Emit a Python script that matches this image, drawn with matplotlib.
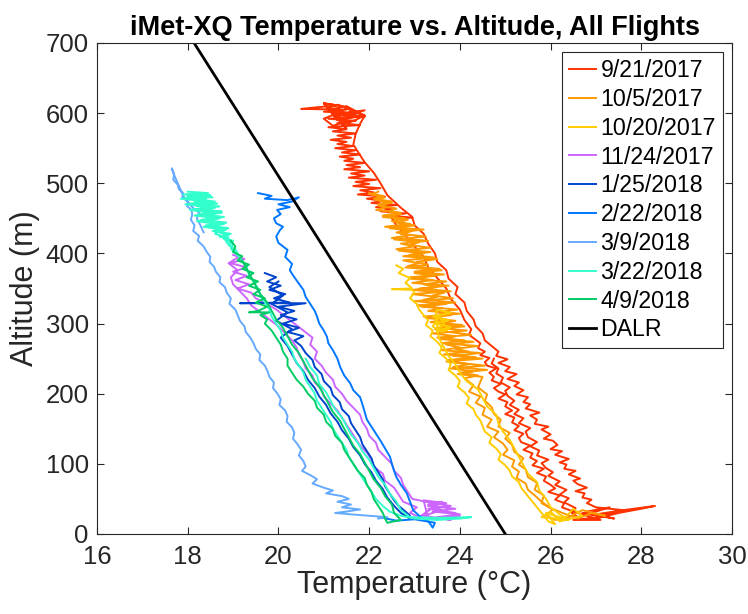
import matplotlib
matplotlib.use("Agg")
import matplotlib.pyplot as plt

plt.rcParams["font.family"] = ["Liberation Sans", "DejaVu Sans"]

# Flight profiles as (temperature degC, altitude m) points, several ascents/descents per flight
flight_0921 = [
    (27.0, 22), (27.5, 30), (28.0, 36), (28.3, 40), (27.6, 34), (27.0, 38),
    (26.8, 44), (26.9, 49), (26.7, 52), (26.75, 58), (26.55, 61), (26.8, 66), (26.6, 71), (26.5, 76),
    (26.65, 79), (26.4, 85), (26.55, 90), (26.3, 93), (26.35, 99), (26.2, 102), (26.4, 107), (26.1, 113),
    (26.25, 118), (26.0, 121), (26.15, 127), (26.05, 133), (25.85, 136), (26.0, 142), (25.8, 149), (25.95, 153),
    (25.65, 157), (25.7, 163), (25.55, 169), (25.75, 173), (25.45, 179), (25.55, 185), (25.4, 188), (25.5, 195),
    (25.25, 199), (25.4, 205), (25.2, 211), (25.3, 216), (25.05, 221), (25.25, 228), (25.0, 232), (25.1, 238),
    (24.85, 244), (25.05, 249), (24.8, 254), (24.85, 260),
    (24.55, 276), (24.5, 286), (24.35, 296), (24.3, 306),
    (24.15, 318), (24.1, 330), (23.9, 342), (23.95, 352), (23.75, 364), (23.7, 376), (23.5, 388), (23.45, 400),
    (23.3, 414), (23.2, 428), (23.0, 440), (22.95, 452), (22.7, 465), (22.4, 483), (22.25, 500), (22.1, 515),
    (21.9, 530), (21.75, 545), (21.65, 555), (21.7, 570), (21.8, 585), (21.9, 596), (21.6, 604), (21.4, 610),
    (21.0, 614),
    (21.3, 590), (21.8, 596), (21.4, 600), (21.9, 604), (21.6, 598), (21.2, 606), (21.5, 610), (21.7, 603),
    (21.3, 596), (21.5, 588), (21.2, 582), (21.0, 592), (21.3, 600), (21.1, 607), (21.3, 612), (21.6, 605),
    (21.9, 597), (21.7, 590), (21.4, 584), (21.5, 578),
    (21.0, 614), (21.3, 611), (20.8, 608), (20.5, 606), (21.5, 605), (21.0, 602), (21.6, 600), (21.2, 597),
    (21.9, 595), (21.1, 592), (21.7, 589), (21.3, 586), (21.8, 583), (21.1, 580), (21.5, 577), (21.2, 574),
    (21.7, 571), (21.3, 568), (21.6, 565), (21.15, 562), (21.5, 559), (21.3, 556), (21.65, 553), (21.25, 550),
    (21.7, 547), (21.4, 544), (21.8, 541), (21.35, 538), (21.65, 535), (21.45, 532), (21.9, 529), (21.5, 526),
    (21.8, 523), (21.45, 520), (22.0, 517), (21.6, 514), (21.9, 511), (21.55, 508), (22.15, 505), (21.7, 502),
    (22.0, 499), (21.65, 496), (22.25, 493), (21.8, 490), (22.1, 487), (21.75, 484), (22.35, 481), (21.95, 478),
    (22.3, 475), (22.05, 472), (22.6, 469), (22.15, 466), (22.5, 463), (22.25, 460), (22.8, 457), (22.45, 454),
    (22.95, 451),
    (22.5, 450), (22.6, 440), (22.8, 425), (23.0, 410), (23.2, 395), (23.3, 380), (23.5, 365), (23.7, 350),
    (23.8, 335), (24.0, 320), (24.1, 305), (24.25, 292), (24.2, 284), (24.45, 272), (24.4, 265),
    (24.55, 260), (24.45, 255), (24.65, 251), (24.55, 245), (24.6, 240), (24.8, 236), (24.65, 230), (24.75, 224),
    (24.7, 219), (24.9, 214), (24.75, 208), (24.85, 203), (25.0, 199), (24.85, 193), (25.05, 188), (25.0, 182),
    (25.15, 176), (25.0, 171), (25.2, 166), (25.15, 159), (25.3, 154), (25.2, 148), (25.4, 143), (25.3, 137),
    (25.35, 131), (25.55, 126), (25.4, 120), (25.6, 115), (25.55, 109), (25.7, 104), (25.6, 98), (25.85, 93),
    (25.7, 87), (25.9, 82), (25.85, 76), (26.0, 70), (26.1, 65), (25.95, 60), (26.2, 55), (26.1, 49),
    (26.3, 44), (26.25, 38), (26.5, 32), (26.8, 26), (27.1, 20),
    (26.5, 20), (27.2, 25), (26.7, 30), (27.4, 22), (27.0, 28), (27.6, 34), (27.1, 26), (26.8, 32),
    (27.3, 38), (26.9, 30),
    (26.6, 24), (26.45, 31), (26.55, 37), (26.3, 45), (26.4, 51), (26.2, 56), (26.35, 63), (26.1, 70),
    (26.2, 75), (25.95, 83), (26.05, 88), (25.9, 94), (25.8, 101), (25.95, 106), (25.7, 112), (25.75, 119),
    (25.55, 125), (25.7, 131), (25.5, 138), (25.45, 146), (25.55, 151), (25.3, 158), (25.4, 165), (25.2, 171),
    (25.3, 177), (25.1, 184), (25.2, 190), (25.05, 197), (25.0, 204), (25.1, 209), (24.9, 216), (24.95, 223),
    (24.8, 229), (24.85, 236), (24.7, 243), (24.75, 250),
]

flight_1005 = [
    (22.0, 486), (22.3, 482), (22.1, 478), (22.5, 474), (22.2, 470), (22.4, 466), (22.15, 462), (22.7, 458),
    (22.3, 454), (22.8, 450), (22.5, 446), (22.9, 442), (22.35, 438), (23.2, 434), (22.6, 430), (22.9, 426),
    (22.5, 422), (23.3, 418), (22.7, 414), (23.0, 410), (22.6, 406), (23.35, 402), (22.9, 398), (23.45, 394),
    (22.75, 390), (23.1, 386), (22.85, 382), (23.55, 378), (23.0, 374), (23.65, 370), (22.9, 366), (23.4, 362),
    (22.95, 358), (23.75, 354), (23.1, 350), (23.8, 346), (22.95, 342), (23.5, 338), (23.2, 334), (23.9, 330),
    (23.05, 326), (23.6, 322), (23.3, 318), (24.0, 314), (23.2, 310), (23.7, 306), (23.35, 302), (24.05, 298),
    (23.5, 294), (24.15, 290), (23.4, 286), (23.9, 282), (23.55, 278), (24.3, 274), (23.7, 270), (24.0, 266),
    (23.6, 262), (24.45, 258), (23.85, 254), (24.5, 250), (23.7, 246), (24.2, 242), (23.85, 238), (24.6, 234),
    (24.0, 230), (24.4, 226), (24.1, 222),
    (24.3, 212), (24.2, 203), (24.45, 196), (24.35, 187), (24.55, 180), (24.5, 170), (24.7, 163), (24.6, 153),
    (24.85, 146), (24.75, 138), (24.95, 129), (25.05, 120), (24.95, 113), (25.2, 105), (25.15, 96), (25.3, 89),
    (25.25, 80), (25.45, 72), (25.5, 63), (25.65, 55), (25.8, 46), (26.0, 37), (26.3, 29), (26.6, 22),
    (26.9, 30), (27.2, 26), (26.7, 34), (26.4, 24),
    (26.1, 20), (25.9, 27), (26.05, 35), (25.8, 44), (25.85, 55), (25.65, 63), (25.7, 73), (25.5, 81),
    (25.45, 92), (25.3, 99), (25.4, 108), (25.2, 117), (25.15, 127), (25.0, 136), (25.1, 144), (24.85, 153),
    (24.9, 163), (24.75, 171), (24.7, 181), (24.55, 190), (24.6, 199), (24.4, 209), (24.45, 217), (24.5, 224),
    (23.95, 228), (24.3, 232), (23.8, 236), (24.55, 240), (24.0, 244), (23.75, 248), (24.35, 252), (23.65, 256),
    (24.2, 260), (23.9, 264), (24.4, 268), (23.6, 272), (24.1, 276), (23.5, 280), (24.25, 284), (23.75, 288),
    (23.45, 292), (24.1, 296), (23.6, 300), (23.9, 304), (23.25, 308), (23.8, 312), (23.5, 316), (23.95, 320),
    (23.15, 324), (23.7, 328), (23.0, 332), (23.85, 336), (23.4, 340), (23.65, 344), (22.95, 348), (23.5, 352),
    (23.2, 356), (23.7, 360), (22.9, 364), (23.45, 368), (23.0, 372), (23.6, 376), (22.8, 380), (23.3, 384),
    (23.05, 388), (23.5, 392), (22.75, 396), (23.2, 400), (22.65, 404), (23.35, 408), (22.9, 412), (23.1, 416),
    (22.55, 420), (23.25, 424), (22.7, 428), (22.95, 432), (22.45, 436), (23.0, 440), (22.6, 444), (22.85, 448),
    (22.3, 452), (22.7, 456), (22.45, 460), (22.6, 464), (22.2, 468), (22.5, 472), (22.15, 476), (22.35, 480),
    (22.05, 484), (22.2, 488),
]

flight_1020 = [
    (22.6, 383), (22.75, 378), (22.65, 372), (22.9, 365), (22.8, 358), (22.95, 350), (22.5, 349), (22.95, 348),
    (23.0, 344), (22.9, 336), (23.05, 328), (23.1, 320), (23.2, 312), (23.3, 305), (23.25, 298), (23.4, 290),
    (23.35, 282), (23.5, 274), (23.6, 266), (23.55, 258), (23.7, 250), (23.8, 242), (23.75, 234), (23.9, 226),
    (24.0, 218), (23.95, 210), (24.1, 202), (24.2, 194), (24.15, 186), (24.3, 178), (24.35, 170), (24.45, 162),
    (24.5, 154), (24.55, 146), (24.7, 138), (24.65, 130), (24.8, 122), (24.9, 114), (24.85, 106), (25.0, 98),
    (25.1, 90), (25.15, 82), (25.3, 74), (25.35, 66), (25.45, 58), (25.55, 50), (25.65, 42), (25.75, 34),
    (25.85, 26), (25.95, 18), (26.1, 14),
    (25.9, 30), (26.3, 22), (26.5, 36), (26.7, 26), (26.2, 18), (26.0, 32), (25.8, 24),
    (26.4, 20), (26.2, 28), (26.0, 38), (25.9, 50), (25.75, 62), (25.7, 74), (25.5, 86), (25.4, 98),
    (25.3, 110), (25.2, 122), (25.1, 134), (24.95, 146), (24.85, 158), (24.8, 170), (24.6, 182), (24.5, 194),
    (24.4, 206), (24.15, 218), (24.0, 230), (23.9, 242), (23.75, 254), (23.65, 266), (23.55, 278), (23.5, 290),
    (23.5, 300), (23.45, 310), (23.5, 320),
    (23.8, 315), (23.4, 310), (23.75, 305), (23.45, 300), (23.8, 295), (23.5, 290), (23.65, 300), (23.55, 310),
    (23.4, 296), (23.6, 288), (23.75, 292),
]

flight_1124 = [
    (19.0, 398), (19.25, 392), (18.95, 386), (19.3, 380), (19.0, 374), (19.3, 368), (19.05, 362), (19.35, 356),
    (19.1, 350), (19.4, 344), (19.5, 336), (19.75, 328), (19.95, 320), (20.15, 310), (20.35, 300), (20.55, 290),
    (20.75, 280), (20.7, 270), (20.85, 260), (20.8, 250), (20.95, 240), (21.05, 230), (21.2, 220), (21.25, 210),
    (21.4, 200), (21.5, 190), (21.65, 180), (21.8, 170), (21.85, 160), (21.95, 150), (22.0, 140), (22.15, 130),
    (22.2, 120), (22.35, 110), (22.5, 100), (22.55, 90), (22.7, 80), (22.75, 70), (22.85, 60), (22.95, 50),
    (23.4, 44), (23.8, 40), (23.3, 36), (23.9, 30), (24.0, 26), (23.3, 22),
    (23.2, 48), (23.7, 44), (23.3, 40), (23.9, 36), (23.4, 32), (24.0, 28), (23.5, 24), (23.8, 20),
    (23.2, 26), (23.6, 34), (23.3, 42), (23.6, 46),
    (23.1, 24), (22.9, 30), (23.05, 38), (22.75, 46), (22.65, 56), (22.55, 66), (22.35, 76), (22.3, 86),
    (22.1, 96), (22.05, 106), (21.95, 116), (21.8, 126), (21.7, 136), (21.6, 146), (21.5, 156), (21.4, 166),
    (21.3, 176), (21.15, 186), (21.0, 196), (20.95, 206), (20.8, 216), (20.75, 226), (20.6, 236), (20.55, 246),
    (20.45, 256), (20.4, 266), (20.3, 276), (20.15, 286), (20.0, 296), (19.8, 306), (19.6, 316), (19.4, 326),
    (19.3, 336), (19.15, 346), (19.0, 356), (18.95, 366), (19.1, 376), (18.9, 386), (19.1, 394),
]

flight_0125 = [
    (19.7, 372), (19.95, 366), (19.75, 360), (20.05, 354), (19.8, 348), (20.15, 342), (19.9, 336), (20.25, 330),
    (19.15, 329), (20.6, 329), (20.0, 324), (20.35, 318), (20.05, 312), (20.4, 306), (20.1, 300), (20.45, 294),
    (20.2, 288), (20.55, 282), (20.35, 276), (20.5, 268), (20.6, 258), (20.75, 248), (20.8, 238), (20.95, 228),
    (21.0, 218), (21.15, 208), (21.2, 198), (21.35, 188), (21.4, 178), (21.55, 168), (21.6, 158), (21.7, 148),
    (21.8, 138), (21.85, 128), (21.95, 118), (22.05, 108), (22.1, 98), (22.2, 88), (22.3, 78), (22.35, 68),
    (22.45, 58), (22.55, 48), (22.65, 40), (22.8, 32), (22.9, 26),
    (22.9, 22), (22.7, 30), (22.55, 40), (22.4, 52), (22.3, 64), (22.15, 76), (22.05, 88), (21.9, 100),
    (21.8, 112), (21.65, 124), (21.55, 136), (21.4, 148), (21.3, 160), (21.15, 172), (21.05, 184), (20.9, 196),
    (20.8, 208), (20.65, 220), (20.55, 232), (20.4, 244), (20.3, 256), (20.2, 268), (20.05, 280), (20.3, 292),
    (19.95, 304), (20.2, 316), (19.85, 328), (20.1, 340), (19.8, 352), (20.0, 360),
]

flight_0222 = [
    (19.55, 486), (19.85, 482), (19.7, 478), (20.2, 476), (20.45, 480), (20.3, 474), (20.0, 470), (20.25, 466),
    (19.97, 462), (20.05, 456), (19.9, 450), (19.95, 443), (20.1, 438), (20.03, 433), (19.95, 424), (20.0, 415),
    (20.2, 405), (20.15, 395), (20.3, 385), (20.25, 376), (20.35, 366), (20.45, 357), (20.55, 348), (20.6, 338),
    (20.7, 328), (20.8, 318), (20.85, 310), (20.9, 300), (21.0, 290), (21.07, 281), (21.1, 272), (21.2, 262),
    (21.3, 250), (21.36, 238), (21.45, 226), (21.58, 215), (21.65, 205), (21.8, 195), (21.85, 185), (21.9, 174),
    (21.95, 163), (22.05, 153), (22.15, 143), (22.24, 134), (22.35, 122), (22.46, 110), (22.5, 100), (22.55, 90),
    (22.6, 81), (22.7, 70), (22.83, 58), (22.9, 46), (22.97, 34), (23.1, 26), (23.28, 20), (23.35, 14),
    (23.4, 9), (23.45, 16), (23.0, 21), (22.6, 19), (22.3, 23),
]

flight_0309 = [
    (18.35, 430), (18.28, 440), (18.2, 450), (18.25, 458), (18.1, 466), (18.0, 474), (17.9, 482), (17.78, 500),
    (17.7, 512), (17.65, 521), (17.7, 512), (17.68, 505), (17.78, 498), (17.8, 492), (17.9, 486), (17.88, 480),
    (18.0, 474), (17.98, 468), (18.08, 462), (18.1, 456), (18.07, 448), (18.15, 440), (18.12, 432), (18.25, 425),
    (18.22, 418), (18.35, 410), (18.42, 402), (18.5, 395), (18.48, 388), (18.58, 381), (18.62, 374), (18.72, 366),
    (18.7, 359), (18.82, 352), (18.86, 344), (18.95, 336), (18.92, 328), (19.05, 320), (19.1, 312), (19.15, 304),
    (19.25, 296), (19.28, 288), (19.38, 280), (19.45, 272), (19.5, 264), (19.6, 256), (19.58, 248), (19.7, 240),
    (19.76, 232), (19.8, 224), (19.9, 216), (19.88, 208), (19.98, 200), (20.05, 192), (20.02, 184), (20.15, 176),
    (20.2, 168), (20.18, 160), (20.3, 152), (20.35, 144), (20.32, 136), (20.42, 128), (20.5, 120), (20.45, 112),
    (20.55, 104), (20.6, 96), (20.52, 90), (20.7, 84), (20.85, 78), (20.75, 72), (21.0, 66), (21.2, 62),
    (21.05, 58), (21.4, 54), (21.55, 50), (21.3, 46), (21.6, 42), (21.4, 38), (21.8, 35), (21.5, 32),
    (21.25, 30), (21.6, 28), (22.0, 26), (22.4, 24), (22.2, 22),
]

flight_0322 = [
    (18.0, 488), (18.45, 486), (17.9, 484), (18.55, 480), (18.05, 478), (18.6, 474), (18.1, 470), (18.7, 467),
    (18.15, 463), (18.75, 460), (18.25, 456), (18.8, 452), (18.3, 448), (18.85, 444), (18.4, 440), (18.9, 436),
    (18.55, 432), (18.95, 428), (18.7, 424), (19.0, 418), (18.9, 412), (19.05, 406), (19.1, 400),
    (19.0, 402), (18.95, 410), (18.85, 416), (18.9, 422), (18.6, 428), (18.75, 434), (18.35, 438), (18.65, 442),
    (18.2, 446), (18.7, 450), (18.15, 454), (18.55, 458), (18.05, 462), (18.5, 466), (17.95, 470), (18.4, 474),
    (17.85, 478), (18.3, 482), (18.1, 486),
    (18.2, 485), (18.5, 483), (18.0, 481), (18.4, 477), (18.15, 475), (18.65, 471), (18.2, 468), (18.6, 465),
    (18.3, 461), (18.75, 458), (18.35, 454), (18.65, 450), (18.45, 446), (18.8, 442), (18.5, 438), (18.85, 434),
    (18.7, 430), (18.9, 426), (18.8, 420), (19.0, 414), (18.95, 408),
    (19.2, 390), (19.3, 380), (19.35, 370), (19.45, 360), (19.55, 350), (19.6, 340), (19.7, 330), (19.8, 320),
    (19.85, 310), (19.95, 300), (20.05, 290), (20.1, 280), (20.2, 270), (20.3, 260), (20.35, 250), (20.45, 240),
    (20.55, 230), (20.6, 220), (20.7, 210), (20.8, 200), (20.85, 190), (20.95, 180), (21.05, 170), (21.15, 160),
    (21.2, 150), (21.3, 140), (21.4, 130), (21.5, 120), (21.55, 110), (21.65, 100), (21.75, 90), (21.85, 80),
    (21.95, 70), (22.05, 60), (22.15, 50), (22.3, 40), (22.45, 32), (22.7, 26), (23.0, 22), (23.5, 20),
    (24.0, 22), (24.25, 24), (23.6, 23),
    (22.9, 24), (22.7, 34), (22.6, 46), (22.45, 58), (22.35, 70), (22.2, 82), (22.1, 94), (22.0, 106),
    (21.85, 118), (21.75, 130), (21.6, 142), (21.5, 154), (21.4, 166), (21.25, 178), (21.15, 190), (21.05, 202),
    (20.9, 214), (20.85, 226), (20.7, 238), (20.6, 250),
]

flight_0409 = [
    (18.95, 418), (19.05, 410), (19.0, 402), (19.2, 396), (19.1, 390), (19.35, 384), (19.2, 378), (19.45, 372),
    (19.3, 366), (19.55, 360), (19.35, 354), (19.6, 348), (19.45, 342), (19.7, 336), (19.5, 330), (19.75, 324),
    (19.55, 318), (19.35, 316), (19.8, 316), (19.6, 312), (19.75, 306), (19.7, 300), (19.85, 290), (19.95, 280),
    (20.05, 270), (20.1, 260), (20.2, 250), (20.2, 240), (20.3, 230), (20.4, 220), (20.55, 210), (20.65, 200),
    (20.8, 190), (20.85, 180), (21.0, 170), (21.05, 160), (21.2, 150), (21.25, 140), (21.4, 130), (21.45, 120),
    (21.55, 110), (21.65, 100), (21.75, 90), (21.9, 80), (21.95, 70), (22.05, 60), (22.1, 50), (22.2, 40),
    (22.3, 30), (22.35, 22), (22.4, 16),
    (22.7, 20), (22.55, 30), (22.5, 42), (22.35, 54), (22.25, 66), (22.1, 78), (22.0, 90), (21.9, 102),
    (21.8, 114), (21.65, 126), (21.55, 138), (21.45, 150), (21.35, 162), (21.2, 174), (21.1, 186), (21.0, 198),
    (20.9, 210), (20.75, 222), (20.65, 234), (20.55, 246), (20.45, 258), (20.3, 270), (20.2, 282), (20.1, 294),
    (19.95, 306), (19.85, 318), (19.75, 330), (19.6, 342), (19.5, 354), (19.4, 366), (19.3, 378), (19.2, 390),
]

# Dry adiabatic lapse rate reference line (end points)
dalr_temp = [25.0, 18.14]
dalr_alt = [0, 700]

flight_labels = ["9/21/2017", "10/5/2017", "10/20/2017", "11/24/2017", "1/25/2018",
                 "2/22/2018", "3/9/2018", "3/22/2018", "4/9/2018"]
flight_data = [flight_0921, flight_1005, flight_1020, flight_1124, flight_0125,
               flight_0222, flight_0309, flight_0322, flight_0409]
flight_colors = ["#FF3300", "#FF9900", "#FFCC00", "#CC66FF", "#0044CC",
                 "#0077FF", "#66AAFF", "#33FFCC", "#00CC66"]

x_ticks = [16, 18, 20, 22, 24, 26, 28, 30]
y_ticks = [0, 100, 200, 300, 400, 500, 600, 700]

axis_gray = "#262626"

fig = plt.figure(figsize=(7.48, 6.14), dpi=100)
ax = fig.add_axes([0.1297, 0.1303, 0.849, 0.7997])

for label, pts, color in zip(flight_labels, flight_data, flight_colors):
    temps = [p[0] for p in pts]
    alts = [p[1] for p in pts]
    ax.plot(temps, alts, color=color, lw=1.4, label=label, solid_joinstyle="round")

ax.plot(dalr_temp, dalr_alt, color="black", lw=2.0, label="DALR")

ax.set_xlim(16, 30)
ax.set_ylim(0, 700)
ax.set_xticks(x_ticks)
ax.set_yticks(y_ticks)
ax.tick_params(direction="in", top=True, right=True, length=5, width=0.8,
               colors=axis_gray, labelsize=18.5)
ax.tick_params(axis="x", pad=8)
ax.tick_params(axis="y", pad=6)
for spine in ax.spines.values():
    spine.set_color(axis_gray)
    spine.set_linewidth(0.8)

ax.set_xlabel("Temperature (\u00b0C)", fontsize=22, color=axis_gray, labelpad=1)
ax.set_ylabel("Altitude (m)", fontsize=22, color=axis_gray, labelpad=4)
ax.set_title("iMet-XQ Temperature vs. Altitude, All Flights", fontsize=19.5,
             fontweight="bold", color="black", pad=6)

leg = ax.legend(loc="upper right", fontsize=16.7, frameon=True, fancybox=False,
                framealpha=1, edgecolor=axis_gray, borderpad=0.3, labelspacing=0.25,
                handlelength=1.15, handletextpad=0.2, borderaxespad=0.4)
leg.get_frame().set_linewidth(0.8)

fig.savefig("out.png", dpi=100)
